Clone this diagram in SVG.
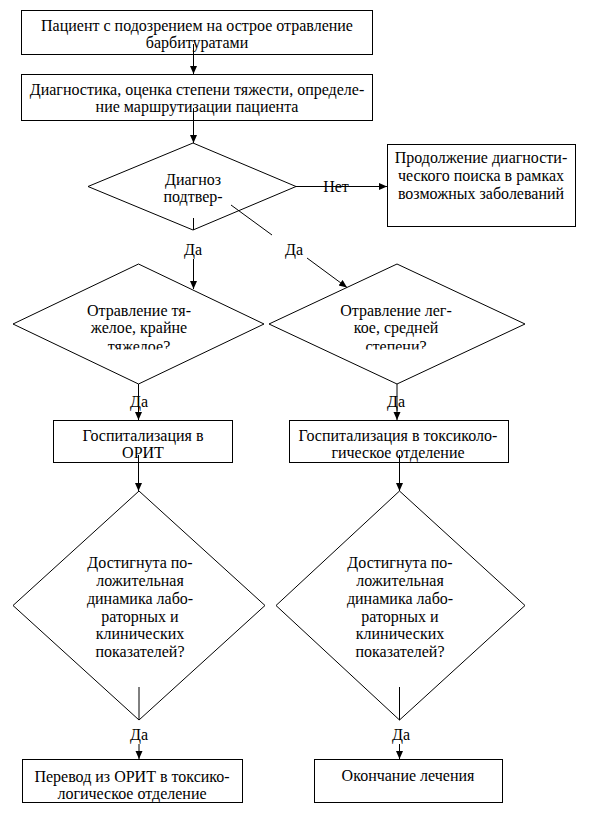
<svg xmlns="http://www.w3.org/2000/svg" width="595" height="813" viewBox="0 0 595 813">
<style>
.b{fill:#fff;stroke:#000;stroke-width:1}
.t{font-family:"Liberation Serif","Times New Roman",serif;font-size:16px;fill:#000;text-anchor:middle}
.c{stroke:#000;stroke-width:1;fill:none}
</style>
<defs>
<marker id="ah" markerUnits="userSpaceOnUse" markerWidth="9" markerHeight="8" refX="8" refY="3.5" orient="auto">
<path d="M0,0 L8,3.5 L0,7 z" fill="#000"/>
</marker>
<clipPath id="clip23"><rect x="0" y="0" width="595" height="349.5"/></clipPath>
</defs>
<rect width="595" height="813" fill="#fff"/>

<g id="n1">
<rect class="b" x="21.5" y="10.5" width="351" height="44"/>
<text class="t" x="197" y="31">Пациент с подозрением на острое отравление</text>
<text class="t" x="197" y="48">барбитуратами</text>
</g>
<g id="n2">
<rect class="b" x="21.5" y="74.5" width="351" height="46"/>
<text class="t" x="197" y="95">Диагностика, оценка степени тяжести, определе-</text>
<text class="t" x="197" y="112">ние маршрутизации пациента</text>
</g>
<g id="n3">
<polygon class="b" points="193,143 296,186.5 193,230 88,186.5"/>
<text class="t" x="193" y="185">Диагноз</text>
<text class="t" x="193" y="202">подтвер-</text>
</g>
<g id="n4">
<rect class="b" x="387.5" y="144.5" width="188" height="82"/>
<text class="t" x="481" y="163">Продолжение диагности-</text>
<text class="t" x="481" y="181">ческого поиска в рамках</text>
<text class="t" x="481" y="199">возможных заболеваний</text>
</g>
<g id="n5">
<polygon class="b" points="138.5,264 264,324 138.5,384 13,324"/>
<text class="t" x="139" y="316">Отравление тя-</text>
<text class="t" x="139" y="333">желое, крайне</text>
<text class="t" x="139" y="352" clip-path="url(#clip23)">тяжелое?</text>
</g>
<g id="n6">
<polygon class="b" points="397,264 525,324 397,384 269,324"/>
<text class="t" x="396" y="316">Отравление лег-</text>
<text class="t" x="396" y="333">кое, средней</text>
<text class="t" x="396" y="352" clip-path="url(#clip23)">степени?</text>
</g>
<g id="n7">
<rect class="b" x="53.5" y="420.5" width="179" height="42"/>
<text class="t" x="143" y="441">Госпитализация в</text>
<text class="t" x="143" y="458">ОРИТ</text>
</g>
<g id="n8">
<rect class="b" x="289.5" y="420.5" width="219" height="42"/>
<text class="t" x="398" y="441">Госпитализация в токсиколо-</text>
<text class="t" x="398" y="458">гическое отделение</text>
</g>
<g id="n9">
<polygon class="b" points="139,491 265,605.5 139,720 13,605.5"/>
<text class="t" x="140" y="568">Достигнута по-</text>
<text class="t" x="140" y="586">ложительная</text>
<text class="t" x="140" y="604">динамика лабо-</text>
<text class="t" x="140" y="622">раторных и</text>
<text class="t" x="140" y="639">клинических</text>
<text class="t" x="140" y="657">показателей?</text>
</g>
<g id="n10">
<polygon class="b" points="399.5,491 525,605.5 399.5,720 276,605.5"/>
<text class="t" x="400" y="568">Достигнута по-</text>
<text class="t" x="400" y="586">ложительная</text>
<text class="t" x="400" y="604">динамика лабо-</text>
<text class="t" x="400" y="622">раторных и</text>
<text class="t" x="400" y="639">клинических</text>
<text class="t" x="400" y="657">показателей?</text>
</g>
<g id="n11">
<rect class="b" x="22.5" y="759.5" width="220" height="43"/>
<text class="t" x="132" y="782">Перевод из ОРИТ в токсико-</text>
<text class="t" x="132" y="799">логическое отделение</text>
</g>
<g id="n12">
<rect class="b" x="314.5" y="759.5" width="188" height="43"/>
<text class="t" x="408" y="781">Окончание лечения</text>
</g>

<g id="connectors">
<line class="c" x1="193.5" y1="44" x2="193.5" y2="74" marker-end="url(#ah)"/>
<line class="c" x1="193.5" y1="108" x2="193.5" y2="143" marker-end="url(#ah)"/>
<line class="c" x1="296" y1="186.5" x2="387" y2="186.5" marker-end="url(#ah)"/>
<text class="t" x="336" y="192">Нет</text>
<line class="c" x1="193.5" y1="218" x2="193.5" y2="230"/>
<text class="t" x="193" y="255">Да</text>
<line class="c" x1="193.5" y1="259" x2="193.5" y2="289" marker-end="url(#ah)"/>
<line class="c" x1="231" y1="205" x2="272" y2="235"/>
<text class="t" x="294" y="255">Да</text>
<line class="c" x1="307" y1="258" x2="347" y2="287.5" marker-end="url(#ah)"/>
<line class="c" x1="138.5" y1="384" x2="138.5" y2="420" marker-end="url(#ah)"/>
<text class="t" x="139" y="407">Да</text>
<line class="c" x1="397" y1="384" x2="397" y2="420" marker-end="url(#ah)"/>
<text class="t" x="396" y="407">Да</text>
<line class="c" x1="138.5" y1="455" x2="138.5" y2="491" marker-end="url(#ah)"/>
<line class="c" x1="399.5" y1="455" x2="399.5" y2="491" marker-end="url(#ah)"/>
<line class="c" x1="139" y1="687" x2="139" y2="720"/>
<text class="t" x="139" y="740">Да</text>
<line class="c" x1="139" y1="744" x2="139" y2="759" marker-end="url(#ah)"/>
<line class="c" x1="399.5" y1="687" x2="399.5" y2="720"/>
<text class="t" x="401" y="740">Да</text>
<line class="c" x1="399.5" y1="744" x2="399.5" y2="759" marker-end="url(#ah)"/>
</g>
</svg>
